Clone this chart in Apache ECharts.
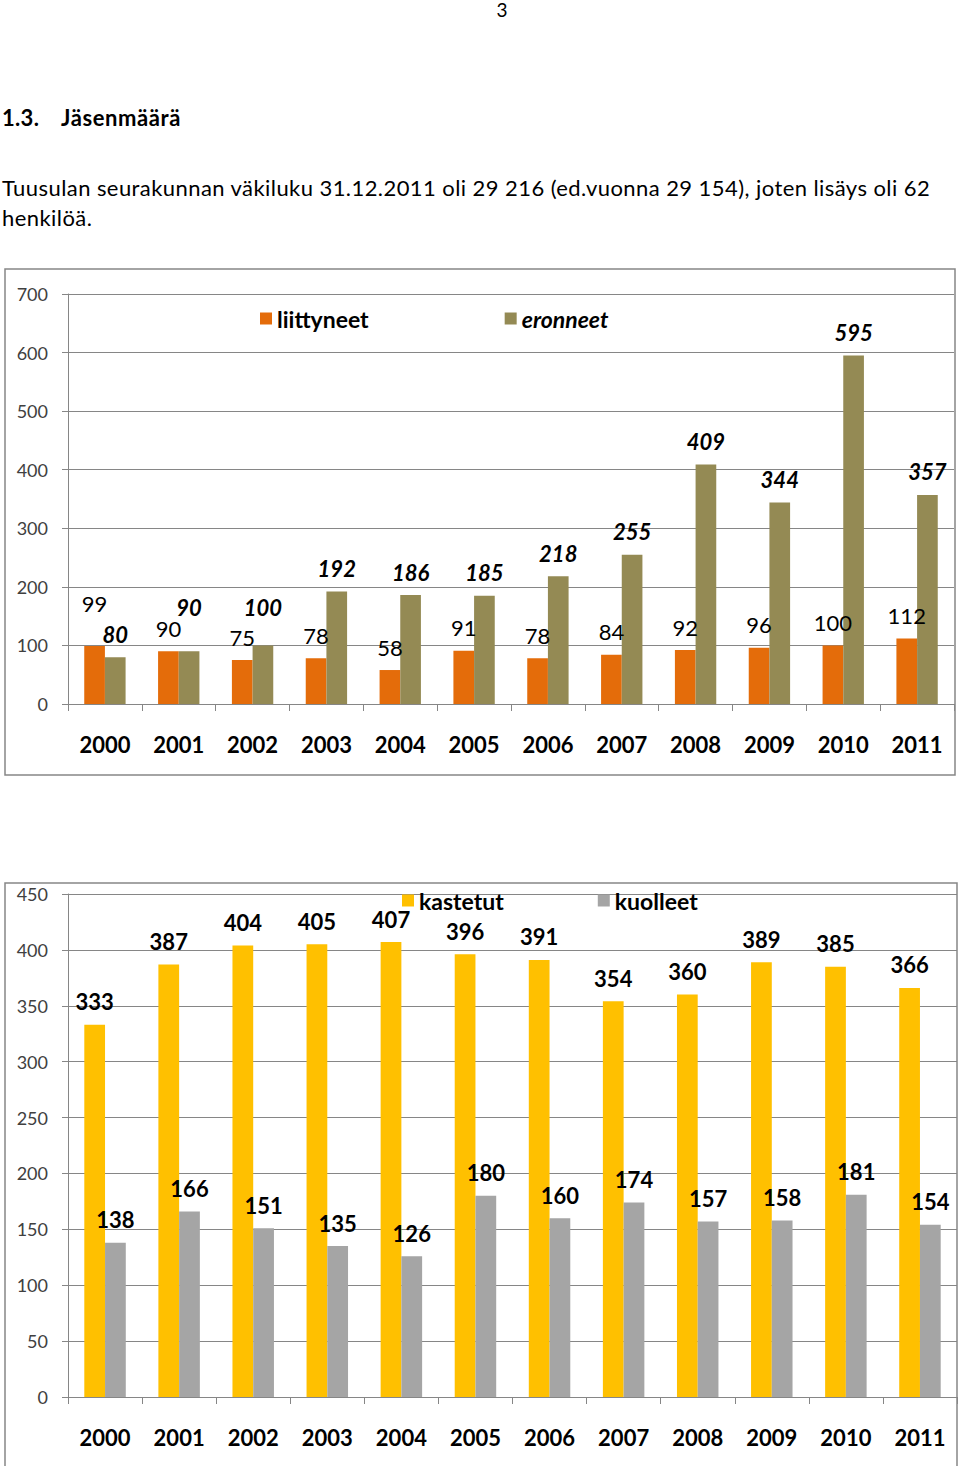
<!DOCTYPE html>
<html><head><meta charset="utf-8">
<script src="https://cdn.jsdelivr.net/npm/echarts@6/dist/echarts.min.js"></script>
<style>
html,body{margin:0;padding:0;background:#fff;}
body{width:960px;height:1466px;position:relative;overflow:hidden;font-family:Lato,sans-serif;color:#000;}
.t{position:absolute;white-space:nowrap;line-height:1;}
#pn{left:492px;width:20px;text-align:center;top:0px;font-size:19px;}
#h1{left:2px;top:107px;font-size:22px;font-weight:bold;letter-spacing:0.3px;}
#h2{left:61px;top:107px;font-size:22px;font-weight:bold;letter-spacing:0.6px;}
#p1{left:2px;top:177px;font-size:22px;letter-spacing:0.43px;}
#p2{left:2px;top:207px;font-size:22px;letter-spacing:0.43px;}
#chart{position:absolute;left:0;top:250px;width:960px;height:1216px;}
</style>
</head><body>
<div class="t" id="pn">3</div>
<div class="t" id="h1">1.3.</div>
<div class="t" id="h2">Jäsenmäärä</div>
<div class="t" id="p1">Tuusulan seurakunnan väkiluku 31.12.2011 oli 29 216 (ed.vuonna 29 154), joten lisäys oli 62</div>
<div class="t" id="p2">henkilöä.</div>
<div id="chart"></div>
<script>
const years = ['2000','2001','2002','2003','2004','2005','2006','2007','2008','2009','2010','2011'];
const liittyneet = [99, 90, 75, 78, 58, 91, 78, 84, 92, 96, 100, 112];
const eronneet = [80, 90, 100, 192, 186, 185, 218, 255, 409, 344, 595, 357];
const kastetut = [333, 387, 404, 405, 407, 396, 391, 354, 360, 389, 385, 366];
const kuolleet = [138, 166, 151, 135, 126, 180, 160, 174, 157, 158, 181, 154];
const axis1 = {min: 0, max: 700, interval: 100};
const axis2 = {min: 0, max: 450, interval: 50};

// extra label lift (manual label placement in the original)
const lift1 = {0: 20};
const lift2 = {1: 21, 2: 15};

const FONT = 'Lato';
const GRID_C = '#868686';
const BASE_DIST = 12;

function items(vals, lift) {
  return vals.map((v, i) => lift && lift[i] ? {value: v, label: {distance: BASE_DIST + lift[i]}} : v);
}
function xAx(gi) {
  return {
    type: 'category', gridIndex: gi, data: years,
    axisLine: {lineStyle: {color: GRID_C, width: 1}},
    axisTick: {show: true, length: 7, lineStyle: {color: GRID_C}},
    axisLabel: {margin: 29, fontSize: 22, fontWeight: 'bold', color: '#000', fontFamily: FONT}
  };
}
function yAx(gi, a) {
  return {
    type: 'value', gridIndex: gi, min: a.min, max: a.max, interval: a.interval,
    axisLine: {show: true, lineStyle: {color: GRID_C, width: 1}},
    axisTick: {show: true, length: 6, lineStyle: {color: GRID_C}},
    splitLine: {show: true, lineStyle: {color: GRID_C, width: 1}},
    axisLabel: {margin: 20, fontSize: 18, color: '#404040', fontFamily: FONT}
  };
}
function bar(name, gi, vals, color, lab, lift) {
  return {
    name, type: 'bar', xAxisIndex: gi, yAxisIndex: gi, data: items(vals, lift),
    barWidth: '28%', barGap: '0%', itemStyle: {color},
    label: Object.assign({show: true, position: 'top', distance: BASE_DIST, fontSize: 22, color: '#000', fontFamily: FONT}, lab),
    emphasis: {disabled: true}, animation: false
  };
}
const chart = echarts.init(document.getElementById('chart'), null, {renderer: 'svg'});
chart.setOption({
  animation: false,
  backgroundColor: 'transparent',
  textStyle: {fontFamily: FONT},
  grid: [
    {left: 68, top: 44, width: 886, height: 410},
    {left: 68, top: 644, width: 889, height: 503}
  ],
  xAxis: [xAx(0), xAx(1)],
  yAxis: [yAx(0, axis1), yAx(1, axis2)],
  legend: [
    {data: ['liittyneet', {name: 'eronneet', textStyle: {fontStyle: 'italic'}}],
     left: 255, top: 52, itemGap: 136, itemWidth: 12, itemHeight: 12, icon: 'rect',
     textStyle: {fontSize: 23, fontWeight: 'bold', color: '#000', fontFamily: FONT}, selectedMode: false},
    {data: ['kastetut', 'kuolleet'],
     left: 397, top: 634, itemGap: 94, itemWidth: 12, itemHeight: 12, icon: 'rect',
     textStyle: {fontSize: 23, fontWeight: 'bold', color: '#000', fontFamily: FONT}, selectedMode: false}
  ],
  series: [
    bar('liittyneet', 0, liittyneet, '#E46C0A', {fontWeight: 'normal'}, lift1),
    bar('eronneet', 0, eronneet, '#948A54', {fontWeight: 'bold', fontStyle: 'italic'}, lift2),
    bar('kastetut', 1, kastetut, '#FFC000', {fontWeight: 'bold'}),
    bar('kuolleet', 1, kuolleet, '#A5A5A5', {fontWeight: 'bold'})
  ],
  graphic: [
    {type: 'rect', shape: {x: 5, y: 19, width: 950, height: 506}, style: {fill: 'none', stroke: GRID_C, lineWidth: 1.5}, silent: true},
    {type: 'rect', shape: {x: 5, y: 633, width: 952, height: 620}, style: {fill: 'none', stroke: GRID_C, lineWidth: 1.5}, silent: true}
  ]
});
</script>
</body></html>
